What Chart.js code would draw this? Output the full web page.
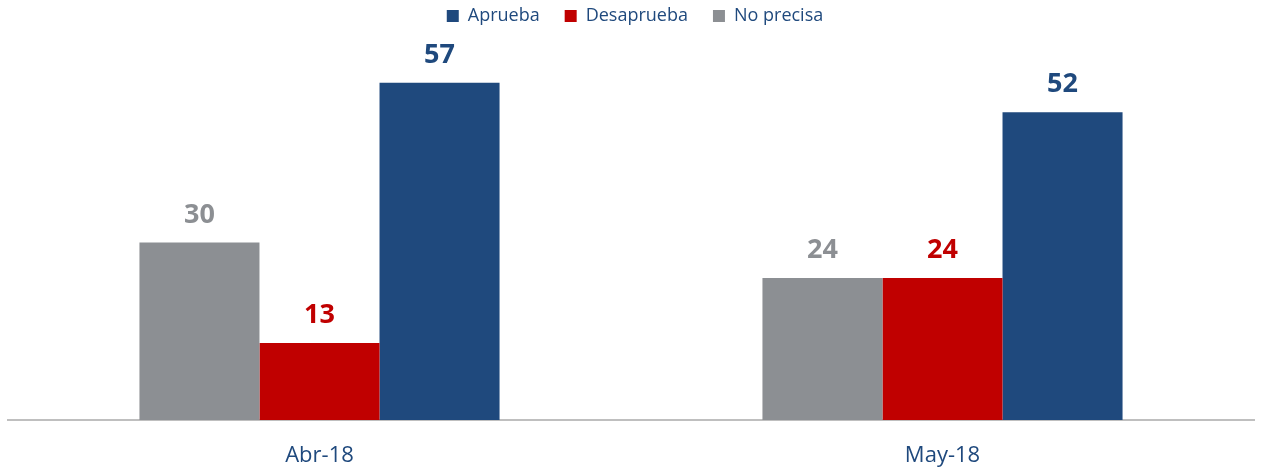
<!DOCTYPE html>
<html>
<head>
<meta charset="utf-8">
<script src="https://cdn.jsdelivr.net/npm/chart.js@4/dist/chart.umd.min.js"></script>
<style>
html,body{margin:0;padding:0;background:#fff;}
#wrap{width:1261px;height:469px;position:relative;}
</style>
</head>
<body>
<div id="wrap"><canvas id="c" width="1261" height="469"></canvas></div>
<script>
const categories = ["Abr-18", "May-18"];
const seriesNames = ["No precisa", "Desaprueba", "Aprueba"];
const noPrecisa = [30, 24];
const desaprueba = [13, 24];
const aprueba = [57, 52];
const seriesColors = ["#8C8F93", "#C00000", "#1F497D"];
const FONT = "'Open Sans', 'Liberation Sans', sans-serif";

const valueLabels = {
  id: 'valueLabels',
  afterDatasetsDraw(chart) {
    const ctx = chart.ctx;
    ctx.save();
    ctx.font = "bold 27px " + FONT;
    ctx.textAlign = 'center';
    ctx.textBaseline = 'alphabetic';
    chart.data.datasets.forEach((ds, i) => {
      const meta = chart.getDatasetMeta(i);
      meta.data.forEach((bar, j) => {
        ctx.fillStyle = ds.backgroundColor;
        ctx.fillText(String(ds.data[j]), bar.x, bar.y - 20);
      });
    });
    ctx.restore();
  }
};
const legendTweak = {
  id: 'legendTweak',
  beforeInit(chart) {
    const lg = chart.legend;
    const fit = lg.fit;
    lg.fit = function () {
      fit.apply(this, arguments);
      this.height = 65;
    };
    const draw = lg.draw;
    lg.draw = function () {
      const ctx = chart.ctx;
      ctx.save();
      ctx.translate(4, -18);
      draw.apply(this, arguments);
      ctx.restore();
    };
  }
};

new Chart(document.getElementById('c'), {
  type: 'bar',
  data: {
    labels: categories,
    datasets: [
      { label: seriesNames[0], data: noPrecisa, backgroundColor: seriesColors[0] },
      { label: seriesNames[1], data: desaprueba, backgroundColor: seriesColors[1] },
      { label: seriesNames[2], data: aprueba, backgroundColor: seriesColors[2] }
    ]
  },
  options: {
    responsive: false,
    animation: false,
    layout: { padding: { left: 8, right: 7, top: 0, bottom: 0 } },
    datasets: { bar: { barPercentage: 1, categoryPercentage: 0.578 } },
    plugins: {
      tooltip: { enabled: false },
      legend: {
        position: 'top',
        reverse: true,
        labels: {
          boxWidth: 12, boxHeight: 12, padding: 25,
          color: '#1F497D',
          font: { family: FONT, size: 18 }
        }
      }
    },
    scales: {
      x: {
        grid: { display: false, drawTicks: false },
        border: { display: true, color: '#BFBFBF', width: 2 },
        ticks: { color: '#1F497D', font: { family: FONT, size: 22 }, padding: 23 },
        afterFit(scale) { scale.height = 49; }
      },
      y: { display: false, min: 0, max: 60 }
    }
  },
  plugins: [valueLabels, legendTweak]
});
</script>
</body>
</html>
